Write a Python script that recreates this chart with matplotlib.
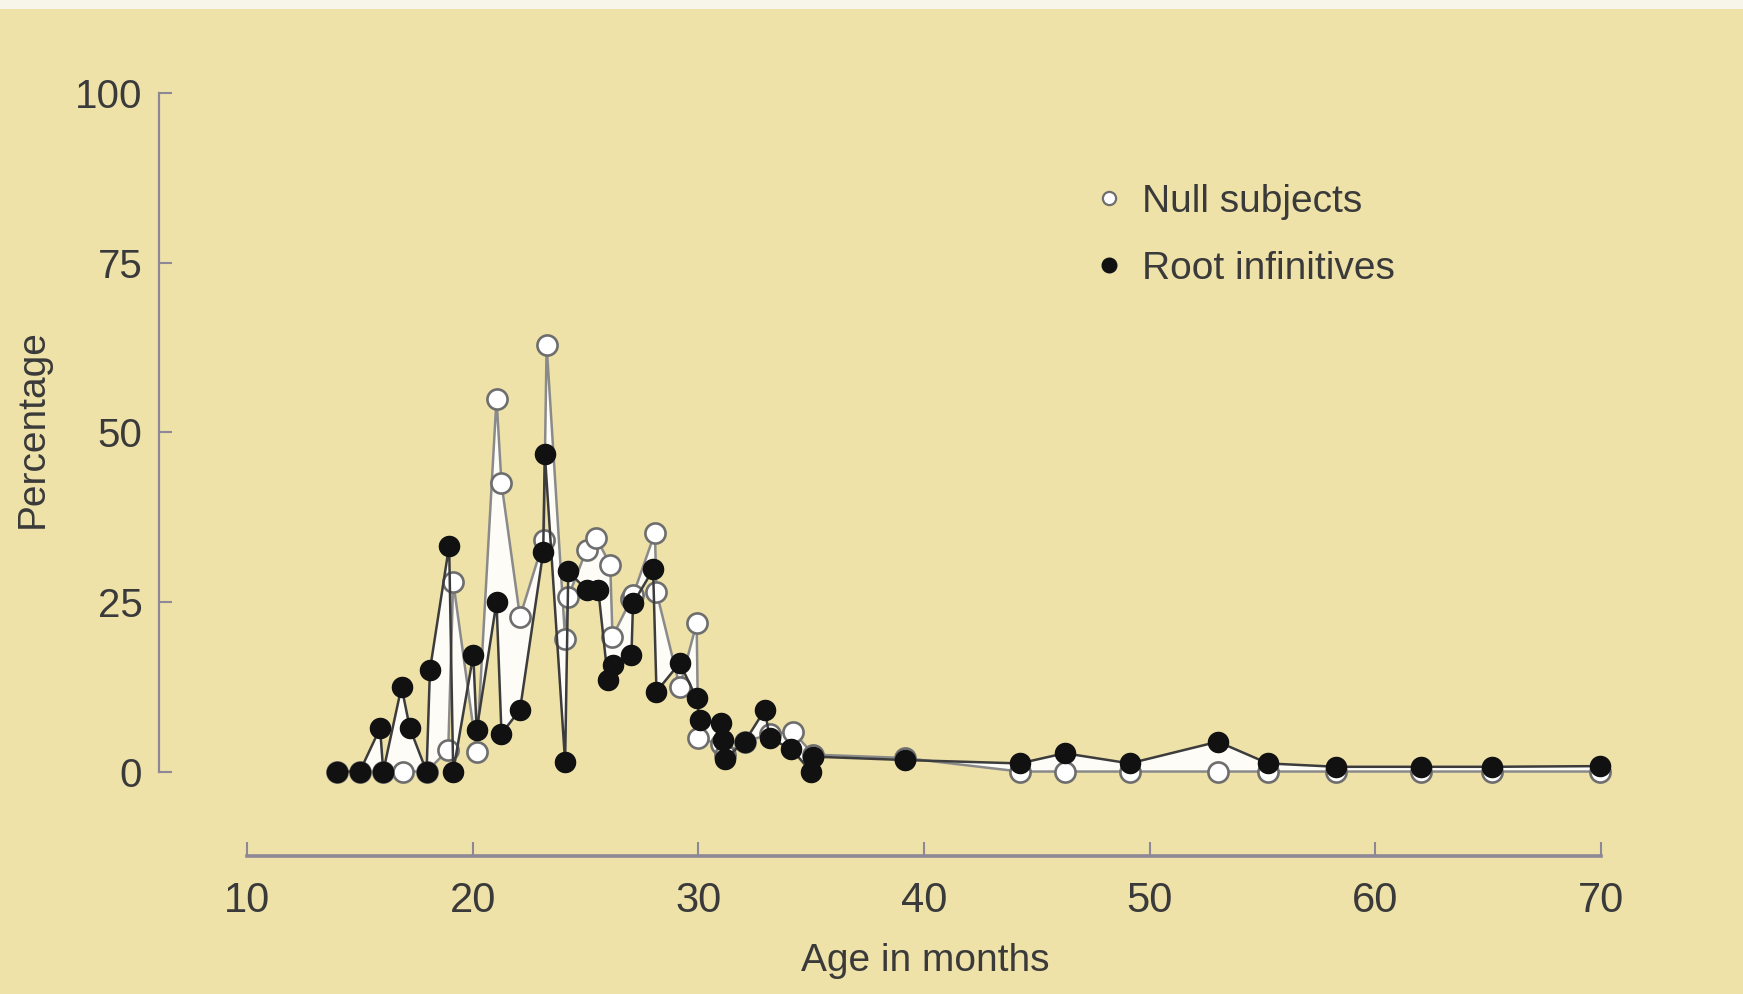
import numpy as np
import matplotlib.pyplot as plt
from matplotlib.lines import Line2D
from matplotlib.patches import Rectangle

# Null subjects (open circles)
ages_null = np.array([13.97, 15.0, 16.04, 16.93, 17.96, 18.92, 19.14, 20.18, 21.06, 21.28,
                      22.1, 23.15, 23.28, 24.1, 24.24, 25.05, 25.49, 26.1, 26.2, 27.04,
                      27.11, 28.08, 28.15, 29.18, 29.93, 30.0, 31.03, 31.18, 32.06, 33.17,
                      34.2, 35.1, 39.15, 44.25, 46.24, 49.12, 53.03, 55.25, 58.28, 62.04,
                      65.2, 69.95])
null_pct = np.array([0, 0, 0, 0, 0, 3.2, 28.0, 2.9, 55.0, 42.5,
                     22.8, 34.1, 62.9, 19.6, 25.8, 32.7, 34.4, 30.5, 19.9, 25.5,
                     26.0, 35.2, 26.5, 12.5, 21.9, 4.9, 4.0, 2.5, 4.4, 5.5,
                     5.9, 2.5, 2.0, 0, 0, 0, 0, 0, 0, 0,
                     0, 0])

# Root infinitives (filled circles)
ages_root = np.array([13.97, 15.0, 15.9, 16.04, 16.85, 17.22, 17.96, 18.11, 18.96, 19.14,
                      20.03, 20.18, 21.06, 21.28, 22.1, 23.13, 23.2, 24.1, 24.24, 25.05,
                      25.57, 26.0, 26.23, 27.04, 27.11, 28.0, 28.15, 29.18, 29.93, 30.07,
                      31.0, 31.1, 31.18, 32.06, 32.95, 33.17, 34.13, 35.0, 35.1, 39.15,
                      44.25, 46.24, 49.12, 53.03, 55.25, 58.28, 62.04, 65.2, 69.95])
root_pct = np.array([0, 0, 6.4, 0, 12.5, 6.4, 0, 15.0, 33.3, 0,
                     17.2, 6.1, 25.0, 5.6, 9.1, 32.4, 46.9, 1.4, 29.5, 26.8,
                     26.8, 13.5, 15.7, 17.2, 24.8, 29.8, 11.8, 16.0, 10.8, 7.6,
                     7.1, 4.6, 1.9, 4.4, 9.1, 4.9, 3.3, 0, 2.2, 1.7,
                     1.2, 2.7, 1.2, 4.4, 1.2, 0.7, 0.7, 0.7, 0.8])

x_ticks = [10, 20, 30, 40, 50, 60, 70]
y_ticks = [0, 25, 50, 75, 100]

bg = '#eee2a9'
spine_col = '#8e8896'
text_col = '#3a3a3a'

plt.rcParams['font.family'] = ['Liberation Sans', 'DejaVu Sans']

fig = plt.figure(figsize=(17.43, 9.94), dpi=100, facecolor=bg)
fig.add_artist(Rectangle((0, 0.991), 1, 0.009, transform=fig.transFigure,
                         facecolor='#f7f4ea', edgecolor='none'))
ax = fig.add_axes([0.0912, 0.1388, 0.8531, 0.7672])
ax.set_facecolor(bg)

# white band between the two curves
ax.fill(np.concatenate([ages_null, ages_root[::-1]]),
        np.concatenate([null_pct, root_pct[::-1]]),
        facecolor='white', edgecolor='none', alpha=0.9, zorder=1)

ax.plot(ages_null, null_pct, color='#8a8a8a', lw=1.8, marker='o', ms=14.5,
        mfc='white', mec='#6e6e6e', mew=1.9, zorder=3, clip_on=False)
ax.plot(ages_root, root_pct, color='#3c3c3c', lw=1.8, marker='o', ms=14.5,
        mfc='#111111', mec='#111111', zorder=4, clip_on=False)

ax.set_xlim(6.1, 72.0)
ax.set_ylim(-12.46, 100)

for side in ['top', 'right']:
    ax.spines[side].set_visible(False)
ax.spines['left'].set_bounds(0, 100)
ax.spines['bottom'].set_bounds(10, 70)
ax.spines['left'].set_color(spine_col)
ax.spines['left'].set_linewidth(1.6)
ax.spines['bottom'].set_color(spine_col)
ax.spines['bottom'].set_linewidth(2.6)

ax.set_xticks(x_ticks)
ax.set_yticks(y_ticks)
ax.tick_params(axis='x', direction='in', length=10, width=1.5, color=spine_col,
               pad=18, labelsize=30, labelcolor=text_col)
ax.tick_params(axis='y', direction='in', length=9, width=1.5, color=spine_col,
               pad=12, labelsize=29, labelcolor=text_col)
for lab in ax.get_xticklabels():
    lab.set_family(['Liberation Sans Narrow', 'Liberation Sans'])

ax.set_xlabel('Age in months', fontsize=28, color=text_col)
ax.xaxis.set_label_coords(0.5151, -0.114)
ax.set_ylabel('Percentage', fontsize=28, color=text_col)
ax.yaxis.set_label_coords(-0.0726, 0.561)

handles = [Line2D([], [], ls='none', marker='o', ms=9.5, mfc='white', mec='#6e6e6e', mew=1.6),
           Line2D([], [], ls='none', marker='o', ms=10.5, mfc='#111111', mec='#111111')]
ax.legend(handles, ['Null subjects', 'Root infinitives'], loc='upper left',
          bbox_to_anchor=(0.6294, 0.8150), bbox_transform=fig.transFigure,
          frameon=False, fontsize=28, labelcolor=text_col, borderpad=0,
          borderaxespad=0, handlelength=0.6, handletextpad=0.56, labelspacing=0.8)

plt.savefig('out.png', dpi=100, facecolor=bg)
